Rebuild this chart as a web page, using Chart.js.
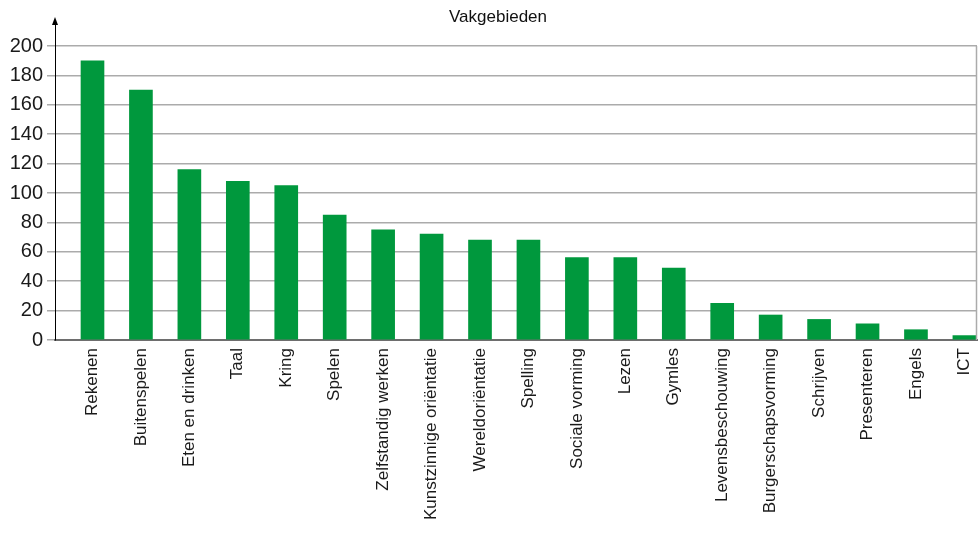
<!DOCTYPE html>
<html>
<head>
<meta charset="utf-8">
<script src="https://cdn.jsdelivr.net/npm/chart.js@4"></script>
<style>
  html, body { margin: 0; padding: 0; background: #fff; }
  #wrap { width: 978px; height: 534px; }
</style>
</head>
<body>
<div id="wrap"><canvas id="vakChart" width="978" height="534"></canvas></div>
<script>
const categories = [
  "Rekenen", "Buitenspelen", "Eten en drinken", "Taal", "Kring", "Spelen",
  "Zelfstandig werken", "Kunstzinnige oriëntatie", "Wereldoriëntatie", "Spelling",
  "Sociale vorming", "Lezen", "Gymles", "Levensbeschouwing", "Burgerschapsvorming",
  "Schrijven", "Presenteren", "Engels", "ICT"
];
const counts = [190, 170, 116, 108, 105, 85, 75, 72, 68, 68, 56, 56, 49, 25, 17, 14, 11, 7, 3];
const yTicks = [0, 20, 40, 60, 80, 100, 120, 140, 160, 180, 200];
const chartTitle = "Vakgebieden";

const GREEN = "#00983d";
const GRID = "#ababab";

// title, arrow on the y axis and the right border line
const extras = {
  id: "extras",
  afterDraw(chart) {
    const { ctx, chartArea } = chart;
    const y = chart.scales.y;
    const top200 = y.getPixelForValue(200);
    ctx.save();
    ctx.strokeStyle = GRID;
    ctx.lineWidth = 1.5;
    ctx.beginPath();
    ctx.moveTo(chartArea.right - 0.5, top200);
    ctx.lineTo(chartArea.right - 0.5, chartArea.bottom);
    ctx.stroke();

    ctx.fillStyle = "#000";
    const ax = chartArea.left;
    ctx.beginPath();
    ctx.moveTo(ax, chartArea.top - 3);
    ctx.lineTo(ax - 3, chartArea.top + 5);
    ctx.lineTo(ax + 3, chartArea.top + 5);
    ctx.closePath();
    ctx.fill();

    ctx.font = "17px 'Liberation Sans Narrow', 'Liberation Sans', sans-serif";
    ctx.textAlign = "center";
    ctx.textBaseline = "middle";
    ctx.fillStyle = "#111";
    ctx.fillText(chartTitle, 498, 17);
    ctx.restore();
  }
};

new Chart(document.getElementById("vakChart"), {
  type: "bar",
  data: {
    datasets: [{
      data: counts.map((v, i) => ({ x: i, y: v })),
      backgroundColor: GREEN,
      barThickness: 23,
      borderWidth: 0
    }]
  },
  options: {
    responsive: false,
    animation: false,
    layout: { padding: { top: 20, right: 1, left: 0, bottom: 0 } },
    plugins: {
      legend: { display: false },
      tooltip: { enabled: false }
    },
    scales: {
      x: {
        type: "linear",
        offset: false,
        min: -0.774,
        max: 18.26,
        afterBuildTicks: (axis) => { axis.ticks = categories.map((c, i) => ({ value: i })); },
        afterFit: (scale) => {
          scale.height = 194;
          scale.paddingLeft = 0;
          scale.paddingRight = 0;
        },
        grid: { display: false, drawTicks: false, offset: false },
        border: { display: true, color: "#6e6e6e", width: 2 },
        ticks: {
          autoSkip: false,
          maxRotation: 90,
          minRotation: 90,
          padding: 8,
          color: "#1a1a1a",
          font: { family: "'Liberation Sans', Arial, sans-serif", size: 17 },
          callback: (value) => categories[value]
        }
      },
      y: {
        min: 0,
        max: 217.7,
        afterBuildTicks: (axis) => { axis.ticks = yTicks.map(v => ({ value: v })); },
        afterFit: (scale) => {
          scale.width = 55;
          scale.paddingTop = 0;
          scale.paddingBottom = 0;
        },
        grid: {
          color: GRID,
          lineWidth: 1.5,
          drawTicks: true,
          tickLength: 8,
          tickColor: GRID
        },
        border: { display: true, color: "#000", width: 1 },
        ticks: {
          padding: 4,
          color: "#1a1a1a",
          font: { family: "'Liberation Sans', Arial, sans-serif", size: 20 }
        }
      }
    }
  },
  plugins: [extras]
});
</script>
</body>
</html>
